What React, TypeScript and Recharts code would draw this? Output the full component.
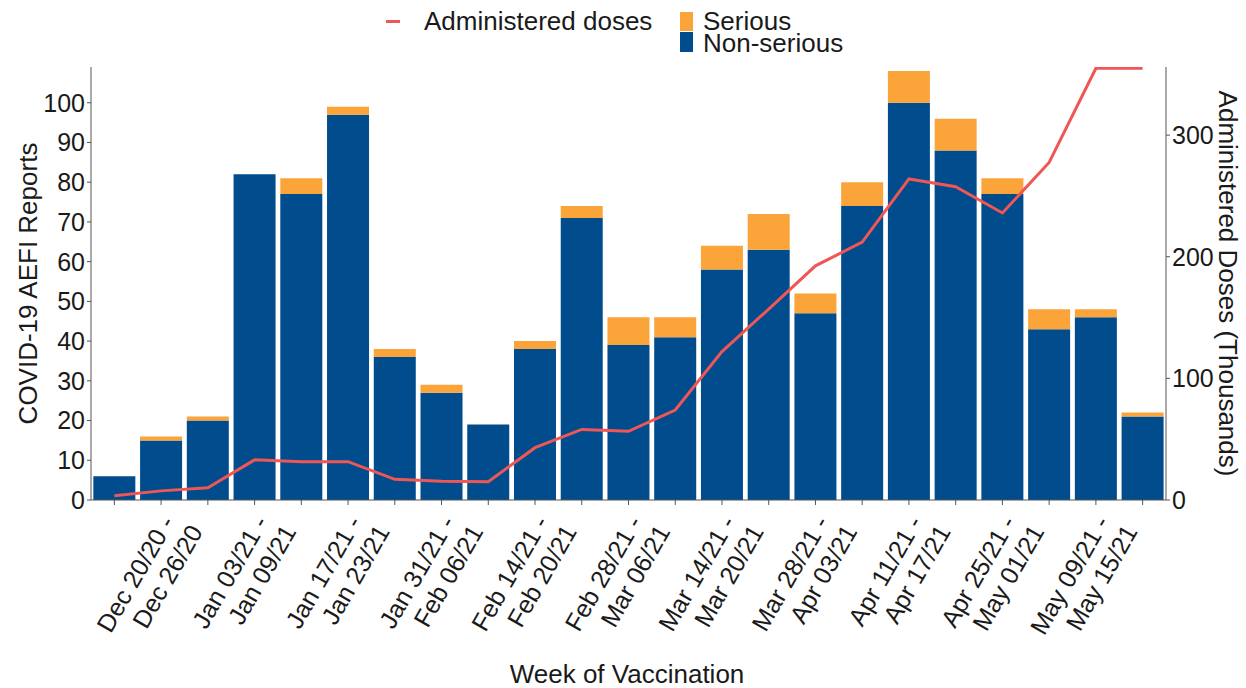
import { Bar, ComposedChart, Line, XAxis, YAxis } from 'recharts';

const weekStart = [
  'Dec 13/20', 'Dec 20/20', 'Dec 27/20', 'Jan 03/21', 'Jan 10/21', 'Jan 17/21', 'Jan 24/21', 'Jan 31/21',
  'Feb 07/21', 'Feb 14/21', 'Feb 21/21', 'Feb 28/21', 'Mar 07/21', 'Mar 14/21', 'Mar 21/21', 'Mar 28/21',
  'Apr 04/21', 'Apr 11/21', 'Apr 18/21', 'Apr 25/21', 'May 02/21', 'May 09/21', 'May 16/21',
];
const weekEnd = [
  'Dec 19/20', 'Dec 26/20', 'Jan 02/21', 'Jan 09/21', 'Jan 16/21', 'Jan 23/21', 'Jan 30/21', 'Feb 06/21',
  'Feb 13/21', 'Feb 20/21', 'Feb 27/21', 'Mar 06/21', 'Mar 13/21', 'Mar 20/21', 'Mar 27/21', 'Apr 03/21',
  'Apr 10/21', 'Apr 17/21', 'Apr 24/21', 'May 01/21', 'May 08/21', 'May 15/21', 'May 22/21',
];
const nonSerious = [6, 15, 20, 82, 77, 97, 36, 27, 19, 38, 71, 39, 41, 58, 63, 47, 74, 100, 88, 77, 43, 46, 21];
const serious = [0, 1, 1, 0, 4, 2, 2, 2, 0, 2, 3, 7, 5, 6, 9, 5, 6, 8, 8, 4, 5, 2, 1];
// thousands of doses
const doses = [3.5, 7.5, 10, 33, 31.5, 31.5, 17, 15.5, 15, 43, 58, 56.5, 74, 122, 157, 192.5, 212, 264, 257.5, 236, 277.5, 355, 355];

const leftTicks = [0, 10, 20, 30, 40, 50, 60, 70, 80, 90, 100];
const rightTicks = [0, 100, 200, 300];

const BLUE = '#004C8C';
const ORANGE = '#FAA43A';
const RED = '#EF5656';
const AXIS = '#555555';
const TEXT = '#1a1a1a';
const FONT = '"Liberation Sans", Arial, sans-serif';

const data = weekStart.map((w, i) => ({
  week: `${w} - ${weekEnd[i]}`,
  nonSerious: nonSerious[i],
  serious: serious[i],
  doses: doses[i],
}));

function WeekTick(props: any) {
  const { x, y, index } = props;
  if (index % 2 === 0) return null;
  return (
    <g transform={`translate(${x},${y})`}>
      <text transform="rotate(-60)" textAnchor="end" fontSize={25} fill={TEXT} fontFamily={FONT}>
        <tspan x={-6} y={20}>{`${weekStart[index]} -`}</tspan>
        <tspan x={0} y={49}>{weekEnd[index]}</tspan>
      </text>
    </g>
  );
}

function LegendOverlay() {
  const txt = { position: 'absolute', fontSize: 26, color: TEXT, fontFamily: FONT, lineHeight: '22px', whiteSpace: 'nowrap' } as const;
  return (
    <>
      <div style={{ position: 'absolute', left: 386, top: 20, width: 14, height: 3, background: RED }} />
      <div style={{ ...txt, left: 424, top: 10 }}>Administered doses</div>
      <div style={{ position: 'absolute', left: 680, top: 12, width: 13, height: 19, background: ORANGE }} />
      <div style={{ position: 'absolute', left: 680, top: 32, width: 13, height: 20, background: BLUE }} />
      <div style={{ ...txt, left: 703, top: 10 }}>Serious</div>
      <div style={{ ...txt, left: 703, top: 32 }}>Non-serious</div>
    </>
  );
}

export default function App() {
  return (
    <div style={{ position: 'absolute', left: 0, top: 0, width: 1246, height: 688, background: '#fff', fontFamily: FONT }}>
      <ComposedChart
        width={1246}
        height={688}
        data={data}
        margin={{ top: 67, right: 0, bottom: 0, left: 0 }}
        barCategoryGap="5%"
      >
        <XAxis
          dataKey="week"
          interval={0}
          height={188}
          tick={<WeekTick />}
          tickSize={5}
          tickLine={{ stroke: AXIS }}
          axisLine={{ stroke: AXIS }}
          label={({ viewBox }: any) => (
            <text x={627} y={viewBox.y + 183} textAnchor="middle" fontSize={26} fill={TEXT} fontFamily={FONT}>
              Week of Vaccination
            </text>
          )}
        />
        <YAxis
          yAxisId="left"
          width={91}
          domain={[0, 109]}
          ticks={leftTicks}
          tickSize={4}
          tick={{ fontSize: 25, fill: TEXT, fontFamily: FONT }}
          tickLine={{ stroke: AXIS }}
          axisLine={{ stroke: AXIS }}
          allowDataOverflow
          label={({ viewBox }: any) => (
            <text
              x={28}
              y={viewBox.y + viewBox.height / 2}
              transform={`rotate(-90, 28, ${viewBox.y + viewBox.height / 2})`}
              textAnchor="middle"
              dominantBaseline="central"
              fontSize={26}
              fill={TEXT}
              fontFamily={FONT}
            >
              COVID-19 AEFI Reports
            </text>
          )}
        />
        <YAxis
          yAxisId="right"
          orientation="right"
          width={80}
          domain={[0, 356]}
          ticks={rightTicks}
          tickSize={4}
          tick={{ fontSize: 25, fill: TEXT, fontFamily: FONT }}
          tickLine={{ stroke: AXIS }}
          axisLine={{ stroke: AXIS }}
          allowDataOverflow
          label={({ viewBox }: any) => (
            <text
              x={1228}
              y={viewBox.y + viewBox.height / 2}
              transform={`rotate(90, 1228, ${viewBox.y + viewBox.height / 2})`}
              textAnchor="middle"
              dominantBaseline="central"
              fontSize={26}
              fill={TEXT}
              fontFamily={FONT}
            >
              Administered Doses (Thousands)
            </text>
          )}
        />
        <Bar yAxisId="left" dataKey="nonSerious" stackId="a" fill={BLUE} isAnimationActive={false} />
        <Bar yAxisId="left" dataKey="serious" stackId="a" fill={ORANGE} isAnimationActive={false} />
        <Line
          yAxisId="right"
          dataKey="doses"
          type="linear"
          stroke={RED}
          strokeWidth={3}
          dot={false}
          activeDot={false}
          isAnimationActive={false}
        />
      </ComposedChart>
      <LegendOverlay />
    </div>
  );
}
